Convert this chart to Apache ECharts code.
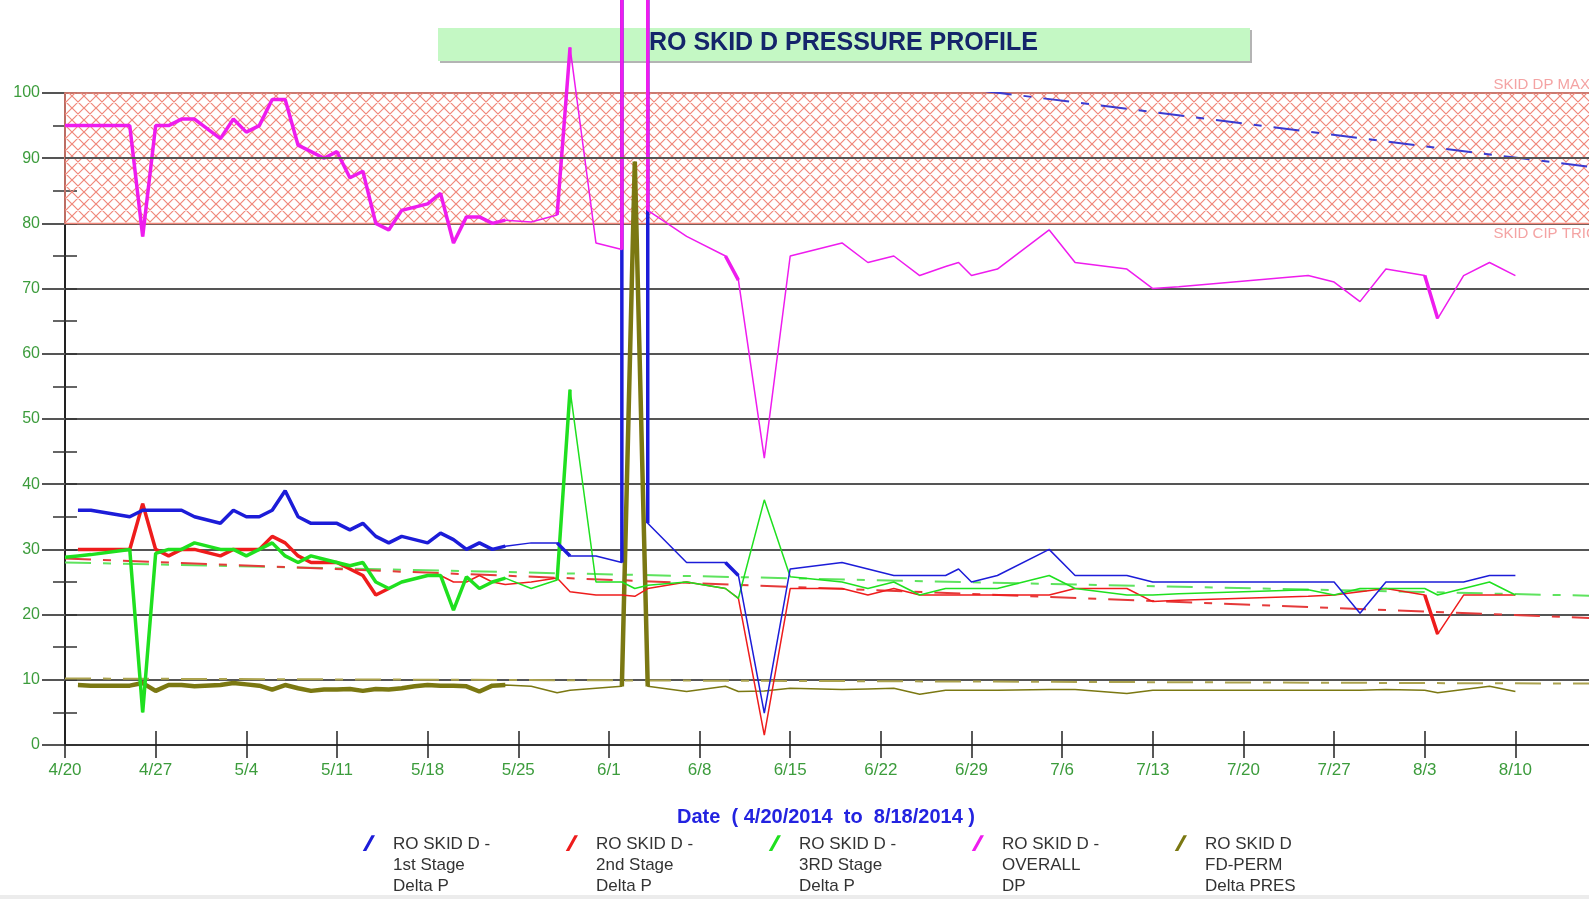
<!DOCTYPE html>
<html>
<head>
<meta charset="utf-8">
<title>RO SKID D PRESSURE PROFILE</title>
<script src="https://cdn.jsdelivr.net/npm/echarts@6/dist/echarts.min.js"></script>
<style>
  html, body { margin: 0; padding: 0; background: #fff; }
  #chart { width: 1589px; height: 899px; }
</style>
</head>
<body>
<div id="chart"></div>
<script>
// x is "days since 4/20/2014"
const tickLabels = ["4/20", "4/27", "5/4", "5/11", "5/18", "5/25", "6/1", "6/8", "6/15",
  "6/22", "6/29", "7/6", "7/13", "7/20", "7/27", "8/3", "8/10", "8/17"];

const days = [0, 1, 2, 5, 6, 7, 8, 9, 10, 12, 13,
  14, 15, 16, 17, 18, 19, 20, 21, 22, 23,
  24, 25, 26, 27, 28, 29, 30, 31, 32, 33,
  34, 36, 38, 39, 41, 43, 43, 44, 45, 45,
  48, 51, 52, 54, 56, 60, 62, 64, 66, 68,
  69, 70, 72, 76, 78, 82, 84, 86, 96, 98,
  100, 102, 105, 106, 108, 110, 112];

const stage1 = [null, 36, 36, 35, 36, 36, 36, 36, 35, 34, 36,
  35, 35, 36, 39, 35, 34, 34, 34, 33, 34,
  32, 31, 32, 31.5, 31, 32.5, 31.5, 30, 31, 30,
  30.5, 31, 31, 29, 29, 28, 320, 320, 320, 34,
  28, 28, 26, 4.9, 27, 28, 27, 26, 26, 26,
  27, 25, 26, 30, 26, 26, 25, 25, 25, 25,
  20.2, 25, 25, 25, 25, 26, 26];

const stage2 = [null, 30, 30, 30, 37, 30, 29, 30, 30, 29, 30,
  30, 30, 32, 31, 29, 28, 28, 28, 27, 26,
  23, 24, 25, 25.5, 26, 26, 25, 25, 26, 25,
  24.6, 25, 25.6, 23.5, 23, 23, 23, 22.8, 24, 24,
  25, 24, 22.5, 1.5, 24, 24, 23, 24, 23, 23,
  23, 23, 23, 23, 24, 24, 22, 22.2, 22.8, 23,
  23.5, 24, 23, 17, 23, 23, 23];

const stage3 = [28.8, 29, 29.2, 30, 5, 29.4, 30, 30, 31, 30, 30,
  29, 30, 31, 29, 28, 29, 28.5, 28, 27.5, 28,
  25, 24, 25, 25.5, 26, 26, 20.7, 25.8, 24, 25,
  25.6, 24, 25.3, 54.5, 25, 25, 25, 24, 24.5, 24.5,
  25, 24, 22.5, 37.6, 25.8, 25, 24, 25, 23, 24,
  24, 24, 24, 26, 24, 23, 23, 23.2, 23.8, 23,
  24, 24, 24, 23, 24, 25, 23];

const overall = [95, 95, 95, 95, 78, 95, 95, 96, 96, 93, 96,
  94, 95, 99, 99, 92, 91, 90, 91, 87, 88,
  80, 79, 82, 82.5, 83, 84.6, 77, 81, 81, 80,
  80.5, 80.2, 81.3, 107, 77, 76, 320, 320, 320, 82,
  78, 75, 71.3, 44, 75, 77, 74, 75, 72, 73.4,
  74, 72, 73, 79, 74, 73, 70, 70.3, 72, 71,
  68, 73, 72, 65.4, 72, 74, 72];

const fdPerm = [null, 9.2, 9.1, 9.1, 9.5, 8.3, 9.2, 9.2, 9, 9.2, 9.5,
  9.3, 9.1, 8.5, 9.2, 8.7, 8.3, 8.5, 8.5, 8.6, 8.3,
  8.6, 8.5, 8.7, 9, 9.2, 9.1, 9.1, 9, 8.2, 9.1,
  9.2, 9, 8, 8.4, 8.7, 9, 9, 89.5, 9, 9,
  8.2, 9, 8.2, 8.3, 8.7, 8.5, 8.6, 8.7, 7.8, 8.4,
  8.4, 8.4, 8.4, 8.5, 8.5, 7.9, 8.4, 8.4, 8.4, 8.4,
  8.4, 8.5, 8.4, 8, 8.5, 9, 8.2];

// dashed trend lines, start/end of the date range
const trendDays = [0, 120];
const stage1Trend = [118.0, 88.1];
const stage2Trend = [28.6, 19.3];
const stage3Trend = [28.0, 22.8];
const fdPermTrend = [10.2, 9.4];

const bandLimits = [80, 100]; // SKID CIP TRIGGER .. SKID DP MAX
const bandMidLine = 90;
const bandLabelDay = 110.3;

const names = [
  "RO SKID D -\n1st Stage\nDelta P",
  "RO SKID D -\n2nd Stage\nDelta P",
  "RO SKID D -\n3RD Stage\nDelta P",
  "RO SKID D -\nOVERALL\nDP",
  "RO SKID D\nFD-PERM\nDelta PRES"
];

// crosshatch for the alarm band
const hatch = document.createElement("canvas");
hatch.width = 12;
hatch.height = 12;
const hctx = hatch.getContext("2d");
hctx.strokeStyle = "#f0877a";
hctx.lineWidth = 1.2;
hctx.beginPath();
for (const k of [-12, 0, 12]) {
  hctx.moveTo(k - 1, -1); hctx.lineTo(k + 13, 13);
  hctx.moveTo(k + 13, -1); hctx.lineTo(k - 1, 13);
}
hctx.stroke();

const inRanges = (d, ranges) => ranges.some(([a, b]) => d >= a && d <= b);

// each measure = thin line for all points + thick overlay where the original is bold
const measure = (name, color, vals, thick, thickWidth) => [
  {
    name, type: "line", showSymbol: false, clip: false,
    color, lineStyle: { color, width: 1.5 },
    data: days.map((d, i) => [d, vals[i]])
  },
  {
    name, type: "line", showSymbol: false, clip: false,
    color, lineStyle: { color, width: thickWidth },
    data: days.map((d, i) => [d, inRanges(d, thick) ? vals[i] : null])
  }
];

const trend = (color, vals) => ({
  type: "line", showSymbol: false, silent: true,
  lineStyle: { color, width: 2, type: [26, 12, 8, 12] },
  data: trendDays.map((d, i) => [d, vals[i]])
});

const green = "#3c9c3c";

const option = {
  animation: false,
  textStyle: { fontFamily: "'Liberation Sans', Arial, sans-serif" },
  title: {
    text: "RO SKID D PRESSURE PROFILE",
    left: 649, top: 31, padding: 0,
    textStyle: { fontSize: 25, fontWeight: "bold", color: "#14256a" }
  },
  graphic: [
    { type: "rect", z: -1, shape: { x: 440, y: 30, width: 812, height: 33 }, style: { fill: "#b4b4b4" } },
    { type: "rect", z: 0, shape: { x: 438, y: 28, width: 812, height: 33 }, style: { fill: "#c4f8c4" } },
    { type: "rect", z: 0, shape: { x: 0, y: 895, width: 1589, height: 4 }, style: { fill: "#ececec" } }
  ],
  legend: {
    data: names,
    left: 361, top: 830, padding: 0,
    itemWidth: 14, itemHeight: 80, itemGap: 21,
    selectedMode: false,
    icon: "path://M0,0 L0.01,0 L0,0.01 Z M2,24 L12,6 L16,6 L6,24 Z M16,80 L15.99,80 L16,79.99 Z",
    lineStyle: { width: 0, opacity: 0 },
    textStyle: { fontSize: 17, lineHeight: 21, color: "#333", width: 150, padding: [0, 0, 0, 13] }
  },
  grid: { left: 65, right: -30, top: 93, bottom: 154, outerBoundsMode: "none" },
  xAxis: [
    {
      type: "value", min: 0, max: 120, interval: 7,
      name: "Date  ( 4/20/2014  to  8/18/2014 )",
      nameLocation: "middle", nameGap: 62,
      nameTextStyle: { color: "#2323e0", fontWeight: "bold", fontSize: 20, padding: [0, 32, 0, 0] },
      axisLine: { lineStyle: { color: "#333", width: 2 } },
      axisTick: { inside: true, length: 14, lineStyle: { color: "#222", width: 1.5 } },
      splitLine: { show: false },
      axisLabel: {
        color: green, fontSize: 17, margin: 17,
        formatter: v => (v % 7 === 0 ? tickLabels[v / 7] || "" : "")
      }
    },
    {
      type: "value", position: "bottom", min: 0, max: 120, interval: 7,
      axisLine: { show: false },
      axisTick: { length: 13, lineStyle: { color: "#222", width: 1.5 } },
      axisLabel: { show: false },
      splitLine: { show: false }
    }
  ],
  yAxis: [
    {
      type: "value", min: 0, max: 100, interval: 10,
      axisLine: { show: true, lineStyle: { color: "#222", width: 2 } },
      axisTick: { show: true, length: 23, lineStyle: { color: "#555", width: 2 } },
      minorTick: { show: true, splitNumber: 2, length: 12, lineStyle: { color: "#333", width: 1.5 } },
      splitLine: { lineStyle: { color: "#555", width: 2 } },
      axisLabel: { color: green, fontSize: 16, margin: 25 }
    },
    {
      type: "value", position: "left", min: 0, max: 100, interval: 5,
      axisLine: { show: false },
      axisTick: { show: true, inside: true, length: 12, lineStyle: { color: "#333", width: 1.5 } },
      axisLabel: { show: false },
      splitLine: { show: false }
    }
  ],
  series: [
    {
      type: "line", data: [], silent: true,
      markArea: {
        silent: true,
        itemStyle: { color: { image: hatch, repeat: "repeat" }, borderColor: "#f0877a", borderWidth: 1.5 },
        data: [[{ yAxis: bandLimits[0] }, { yAxis: bandLimits[1] }]]
      },
      markLine: {
        silent: true, symbol: "none", label: { show: false },
        lineStyle: { color: "#555", width: 2, type: "solid" },
        data: [{ yAxis: bandMidLine }]
      },
      markPoint: {
        silent: true, symbol: "circle", symbolSize: 0,
        label: { show: true, formatter: "{b}", color: "#f4a3a3", fontSize: 15, align: "left" },
        data: [
          { name: "SKID DP MAX", coord: [bandLabelDay, bandLimits[1]], label: { position: [0, -16] } },
          { name: "SKID CIP TRIGGER", coord: [bandLabelDay, bandLimits[0]], label: { position: [0, 3] } }
        ]
      }
    },
    trend("#aba24e", fdPermTrend),
    trend("#5ee35e", stage3Trend),
    trend("#e53a3a", stage2Trend),
    Object.assign(trend("#3b3bd0", stage1Trend), { clip: true }),
    ...measure(names[4], "#7b7812", fdPerm, [[1, 34], [43, 45]], 4.5),
    ...measure(names[1], "#ee1c1c", stage2, [[1, 25], [105, 106]], 3.5),
    ...measure(names[2], "#1fe01f", stage3, [[0, 34], [38, 39]], 3.5),
    ...measure(names[0], "#1c1cd8", stage1, [[1, 34], [38, 39], [43, 45], [51, 52]], 3.5),
    ...measure(names[3], "#ee1cee", overall, [[0, 34], [38, 39], [43, 45], [51, 52], [105, 106]], 3.5)
  ]
};

const chart = echarts.init(document.getElementById("chart"));
chart.setOption(option);
</script>
</body>
</html>
